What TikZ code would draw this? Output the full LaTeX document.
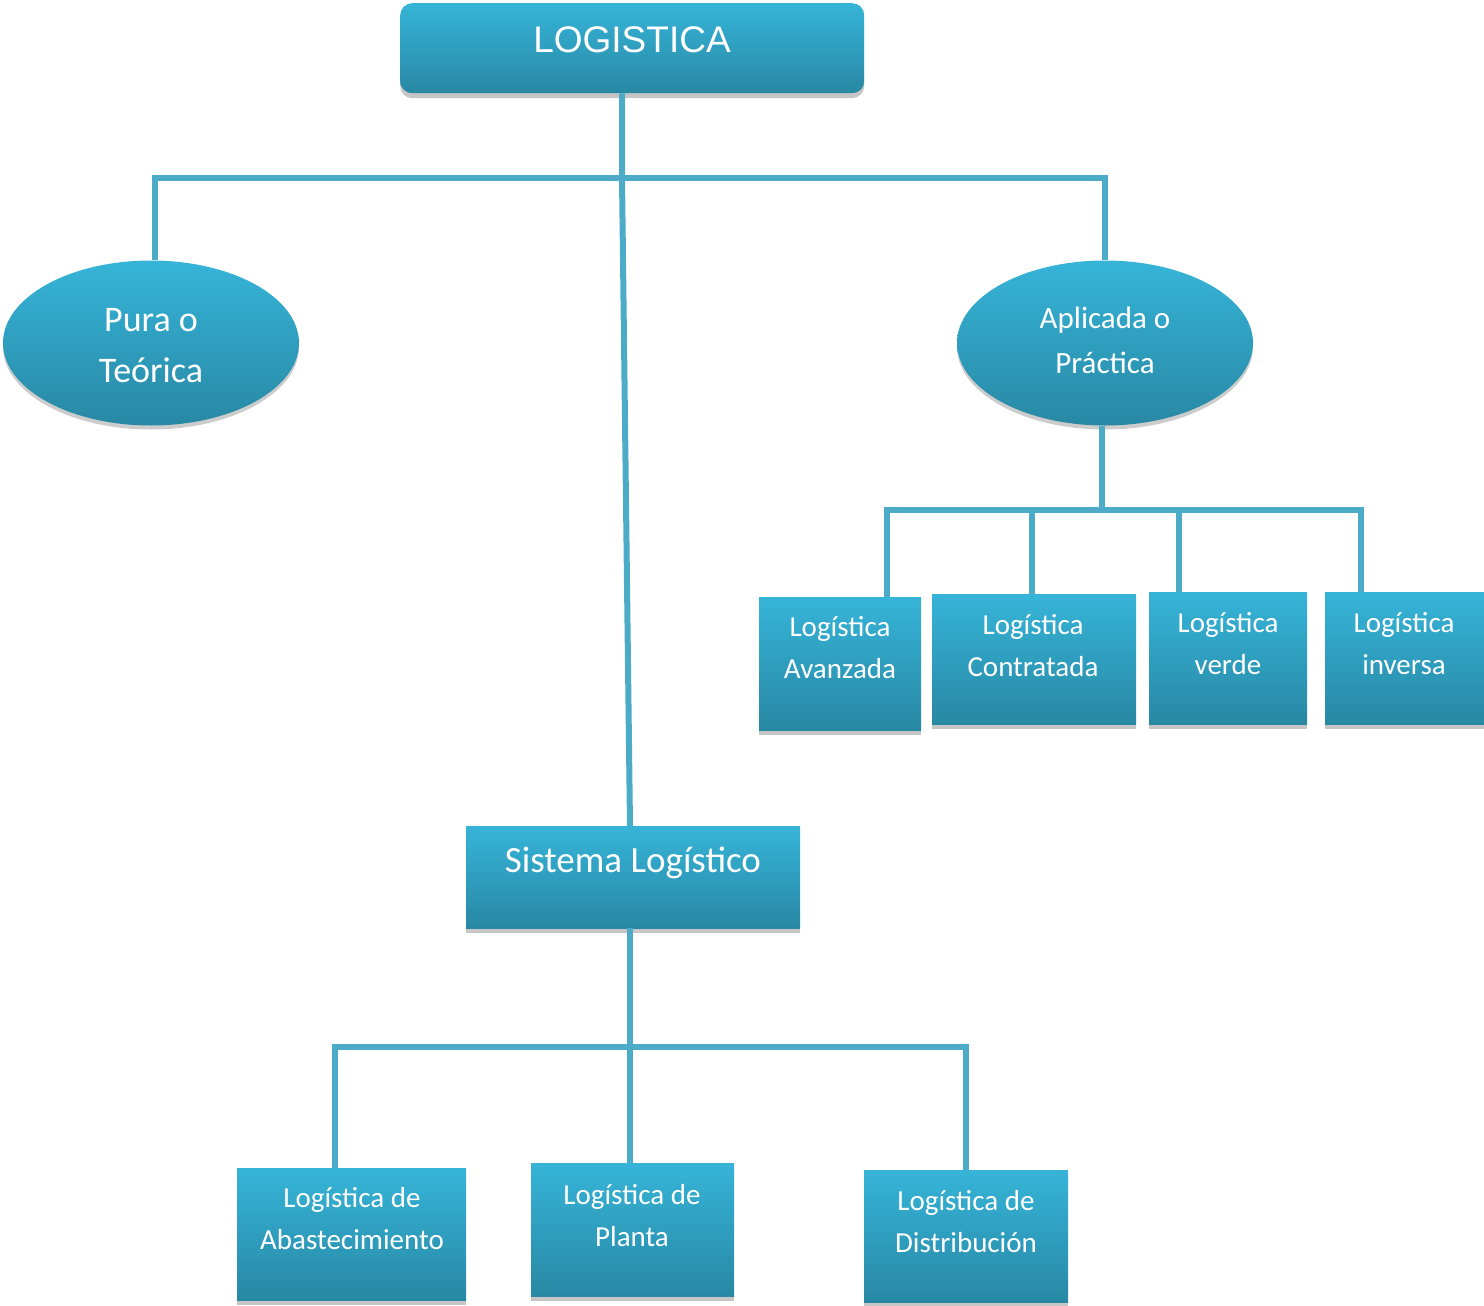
\documentclass[tikz,border=0pt]{standalone}
\usepackage{fontspec}
\setmainfont{Carlito}
\newfontfamily\arialfont{Liberation Sans}
\usetikzlibrary{shapes.geometric,shadows,positioning}
\definecolor{boxtop}{RGB}{54,180,216}
\definecolor{boxbottom}{RGB}{40,136,164}
\definecolor{linkblue}{RGB}{76,172,200}

\tikzset{
  box/.style={rectangle, inner sep=0pt, anchor=north west,
    top color=boxtop, bottom color=boxbottom, draw=none,
    drop shadow={shadow xshift=0pt, shadow yshift=-5pt, opacity=0.45}},
  oval/.style={ellipse, inner sep=0pt, minimum width=296pt, minimum height=165pt,
    top color=boxtop, bottom color=boxbottom, draw=none,
    drop shadow={shadow xshift=0pt, shadow yshift=-4pt, opacity=0.4}},
  txt/.style={text=white, align=center, inner sep=0pt},
  link/.style={draw=linkblue, line width=6pt}
}

\begin{document}
\begin{tikzpicture}[x=1pt, y=-1pt]
  \useasboundingbox (0,0) rectangle (1484,1306);

  % top level
  \node[box, rounded corners=12pt, minimum width=464pt, minimum height=90pt] (logistica) at (400,3) {};
  \node[txt, font=\arialfont\fontsize{37}{44}\selectfont] at (632,40) {LOGISTICA};

  % branches
  \node[oval] (pura) at (151,343) {};
  \node[txt, font=\fontsize{36}{51}\selectfont] at (151,346) {Pura o\\Teórica};
  \node[oval] (aplicada) at (1105,343) {};
  \node[txt, font=\fontsize{31}{45}\selectfont] at (1105,340) {Aplicada o\\Práctica};

  \node[box, minimum width=334pt, minimum height=102pt] (sistema) at (466,826) {};
  \node[txt, font=\fontsize{37}{44}\selectfont] at (633,863) {Sistema Logístico};

  % applied logistics
  \node[box, minimum width=162pt, minimum height=133pt] (avanzada) at (759,597) {};
  \node[txt, font=\fontsize{29}{42}\selectfont] at (840,648) {Logística\\Avanzada};
  \node[box, minimum width=204pt, minimum height=130pt] (contratada) at (932,594) {};
  \node[txt, font=\fontsize{29}{42}\selectfont] at (1033,646) {Logística\\Contratada};
  \node[box, minimum width=158pt, minimum height=132pt] (verde) at (1149,592) {};
  \node[txt, font=\fontsize{29}{42}\selectfont] at (1228,644) {Logística\\verde};
  \node[box, minimum width=159pt, minimum height=132pt] (inversa) at (1325,592) {};
  \node[txt, font=\fontsize{29}{42}\selectfont] at (1404,644) {Logística\\inversa};

  % logistic system
  \node[box, minimum width=229pt, minimum height=132pt] (abastecimiento) at (237,1168) {};
  \node[txt, font=\fontsize{29}{42}\selectfont] at (352,1219) {Logística de\\Abastecimiento};
  \node[box, minimum width=203pt, minimum height=133pt] (planta) at (531,1163) {};
  \node[txt, font=\fontsize{29}{42}\selectfont] at (632,1216) {Logística de\\Planta};
  \node[box, minimum width=204pt, minimum height=132pt] (distribucion) at (864,1170) {};
  \node[txt, font=\fontsize{29}{42}\selectfont] at (966,1222) {Logística de\\Distribución};

  % connectors
  \coordinate (barA) at (622,178);
  \coordinate (barB) at (1102,510);
  \coordinate (barC) at (630,1047);
  \draw[link] (logistica.south -| barA) -- (barA) -- (sistema.north -| barC);
  \draw[link] ([xshift=4pt]pura.north) |- (barA) -| (aplicada.north);
  \draw[link] (aplicada.south -| barB) -- (barB);
  \draw[link] ([xshift=47pt]avanzada.north) |- (barB) -| ([xshift=-44pt]inversa.north);
  \draw[link] ([xshift=-2pt]contratada.north) -- ([xshift=-2pt]contratada.north |- barB);
  \draw[link] ([xshift=-49pt]verde.north) -- ([xshift=-49pt]verde.north |- barB);
  \draw[link] (sistema.south -| barC) -- (barC);
  \draw[link] ([xshift=-17pt]abastecimiento.north) |- (barC) -| (distribucion.north);
  \draw[link] (planta.north -| barC) -- (barC);
\end{tikzpicture}
\end{document}
